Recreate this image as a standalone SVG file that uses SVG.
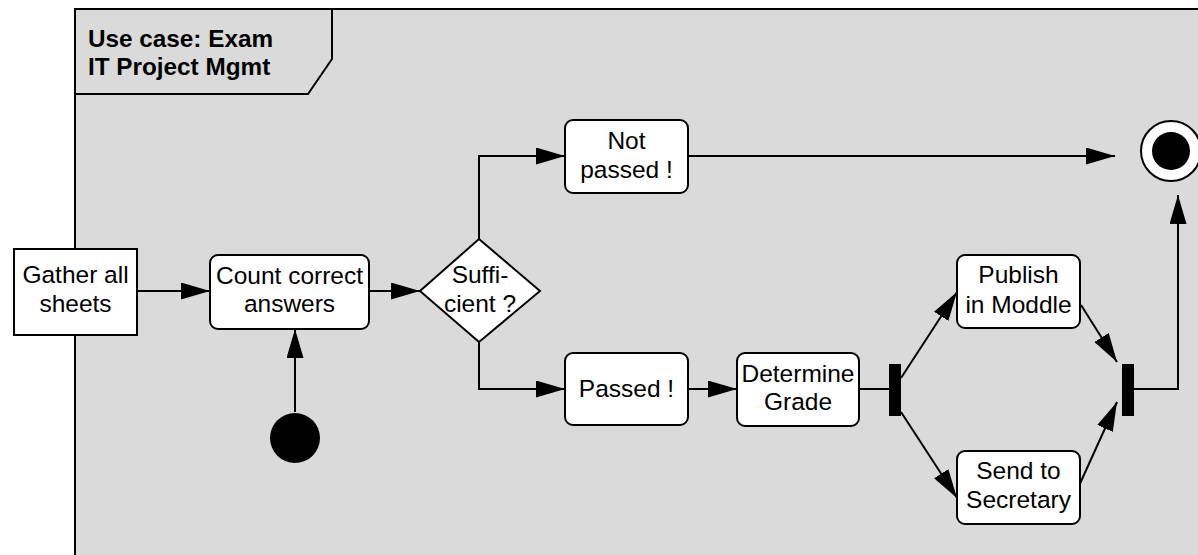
<svg xmlns="http://www.w3.org/2000/svg" width="1198" height="555" viewBox="0 0 1198 555">
<defs>
<marker id="arr" markerUnits="userSpaceOnUse" markerWidth="30" markerHeight="18" refX="29" refY="8.5" orient="auto">
<path d="M0,0 L29,8.5 L0,17 z" fill="#000"/>
</marker>
<style>
.frame{fill:#dadada;stroke:#000;stroke-width:2}
.node{fill:#fff;stroke:#000;stroke-width:2}
.t{font-family:"Liberation Sans",Arial,sans-serif;font-size:24.5px;fill:#000;text-anchor:middle}
.lbl{font-family:"Liberation Sans",Arial,sans-serif;font-size:24.3px;font-weight:bold;fill:#000}
.c{fill:none;stroke:#000;stroke-width:2}
.ca{fill:none;stroke:#000;stroke-width:2;marker-end:url(#arr)}
</style>
</defs>
<g id="frame">
<rect class="frame" x="75" y="9" width="1140" height="560"/>
<path d="M75,9 L332,9 L332,59 L308,94 L75,94" fill="none" stroke="#000" stroke-width="2"/>
<text class="lbl" x="88" y="46.5">Use case: Exam</text>
<text class="lbl" x="88" y="75">IT Project Mgmt</text>
</g>
<g id="connectors">
<path class="ca" d="M137,291 L210,291"/>
<path class="ca" d="M295,412 L295,329"/>
<path class="ca" d="M369,291 L420,291"/>
<path class="ca" d="M479,239 L479,156 L565,156"/>
<path class="ca" d="M479,342 L479,389 L565,389"/>
<path class="ca" d="M688,156 L1115,156"/>
<path class="ca" d="M688,389 L737,389"/>
<path class="c" d="M859,389 L889,389"/>
<path class="ca" d="M901,378 L957,292"/>
<path class="ca" d="M901,412 L957,498"/>
<path class="ca" d="M1081,305 L1117,362"/>
<path class="ca" d="M1078,488 L1117,402"/>
<path class="ca" d="M1134,389 L1178,389 L1178,195"/>
</g>
<g id="gather">
<rect class="node" x="14" y="249" width="123" height="86"/>
<text class="t" x="75.5" y="283">Gather all</text>
<text class="t" x="75.5" y="312">sheets</text>
</g>
<g id="count">
<rect class="node" x="210" y="255" width="159" height="74" rx="8"/>
<text class="t" x="289.5" y="284">Count correct</text>
<text class="t" x="289.5" y="312">answers</text>
</g>
<g id="start">
<circle cx="295" cy="438" r="25" fill="#000"/>
</g>
<g id="decision">
<path class="node" d="M420,291 L479,239 L540,291 L479,342 z"/>
<text class="t" x="480" y="283">Suffi-</text>
<text class="t" x="480" y="312">cient ?</text>
</g>
<g id="notpassed">
<rect class="node" x="565" y="120" width="123" height="73" rx="8"/>
<text class="t" x="626.5" y="149">Not</text>
<text class="t" x="626.5" y="178">passed !</text>
</g>
<g id="passed">
<rect class="node" x="565" y="353" width="123" height="72" rx="8"/>
<text class="t" x="626.5" y="397">Passed !</text>
</g>
<g id="determine">
<rect class="node" x="737" y="353" width="122" height="73" rx="8"/>
<text class="t" x="798" y="382">Determine</text>
<text class="t" x="798" y="410">Grade</text>
</g>
<g id="fork">
<rect x="889" y="364" width="12" height="52" fill="#000"/>
</g>
<g id="publish">
<rect class="node" x="957" y="255" width="123" height="73" rx="8"/>
<text class="t" x="1018.5" y="283">Publish</text>
<text class="t" x="1018.5" y="313">in Moddle</text>
</g>
<g id="secretary">
<rect class="node" x="957" y="451" width="123" height="73" rx="8"/>
<text class="t" x="1018.5" y="479">Send to</text>
<text class="t" x="1018.5" y="508">Secretary</text>
</g>
<g id="join">
<rect x="1122" y="364" width="12" height="52" fill="#000"/>
</g>
<g id="end">
<circle cx="1171" cy="151" r="30" fill="#fff" stroke="#000" stroke-width="2"/>
<circle cx="1171" cy="151" r="19" fill="#000"/>
</g>
</svg>
